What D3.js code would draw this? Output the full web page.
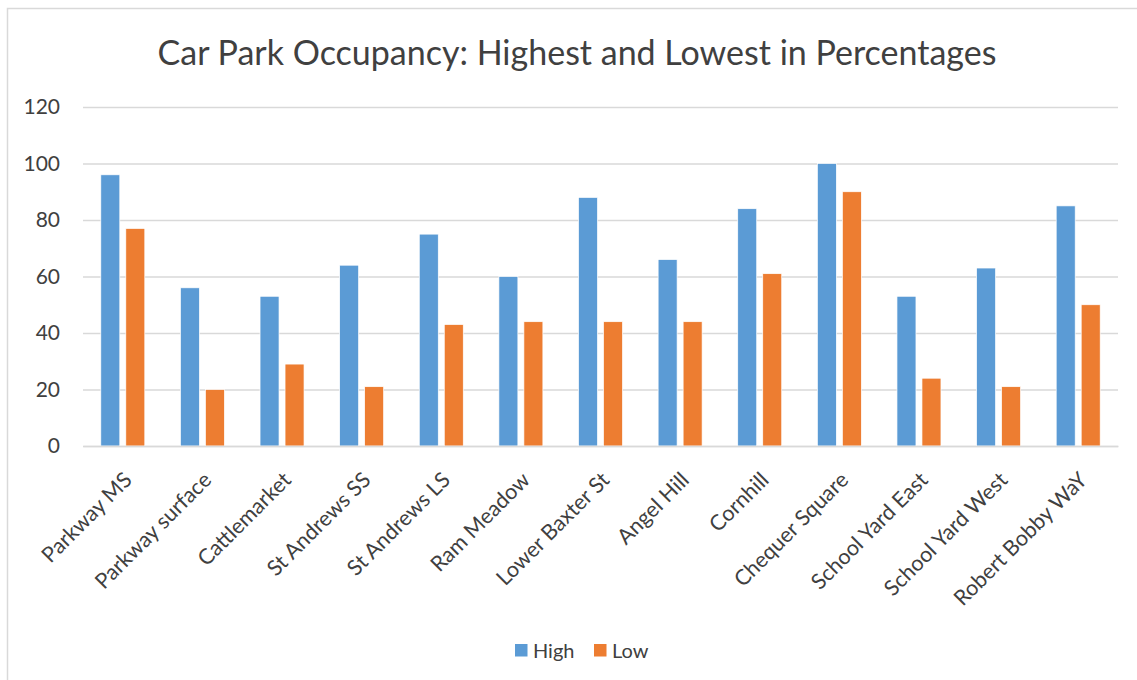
<!DOCTYPE html>
<html>
<head>
<meta charset="utf-8">
<script src="https://cdn.jsdelivr.net/npm/d3@7"></script>
<style>
  body { margin: 0; background: #fff; }
  text { font-family: Lato, "Open Sans", sans-serif; fill: #404040; }
</style>
</head>
<body>
<div id="chart"></div>
<script>
const carParks = ["Parkway MS", "Parkway surface", "Cattlemarket", "St Andrews SS", "St Andrews LS",
    "Ram Meadow", "Lower Baxter St", "Angel Hill", "Cornhill", "Chequer Square",
    "School Yard East", "School Yard West", "Robert Bobby WaY"];
const highValues = [96, 56, 53, 64, 75, 60, 88, 66, 84, 100, 53, 63, 85];
const lowValues = [77, 20, 29, 21, 43, 44, 44, 44, 61, 90, 24, 21, 50];
const seriesNames = ["High", "Low"];
const yTicks = [0, 20, 40, 60, 80, 100, 120];

const colors = { High: "#5b9bd5", Low: "#ed7d31" };

const W = 1137, H = 680;
const margin = { top: 107, right: 19, bottom: 234, left: 83 };
const width = W - margin.left - margin.right;
const height = H - margin.top - margin.bottom;

const svg = d3.select("#chart").append("svg")
    .attr("width", W).attr("height", H);

// outer chart frame
svg.append("path")
    .attr("d", `M7.5,${H} V8.5 H${W}`)
    .attr("fill", "none").attr("stroke", "#d9d9d9").attr("stroke-width", 1.5);

svg.append("text")
    .attr("x", 577).attr("y", 65)
    .attr("text-anchor", "middle")
    .style("font-size", "34px")
    .text("Car Park Occupancy: Highest and Lowest in Percentages");

const g = svg.append("g").attr("transform", `translate(${margin.left},${margin.top})`);

const x = d3.scaleBand().domain(carParks).range([0, width]);
const xs = d3.scaleBand().domain(seriesNames).range([x.bandwidth() / 2 - 22, x.bandwidth() / 2 + 22]).paddingInner(0.24);
const y = d3.scaleLinear().domain([0, 120]).range([height, 0]);

// gridlines
const gridlines = d3.axisLeft(y).tickValues(yTicks).tickSize(-width).tickFormat("");
g.append("g").attr("class", "grid").call(gridlines)
    .call(s => s.select(".domain").remove())
    .call(s => s.selectAll("line").attr("stroke", "#d9d9d9").attr("stroke-width", 1.5));

// y labels
const yAxis = d3.axisLeft(y).tickValues(yTicks).tickSize(0).tickPadding(23);
g.append("g").call(yAxis)
    .call(s => s.select(".domain").remove())
    .call(s => s.selectAll("text").style("font-size", "21px").attr("fill", "#404040"));

// bars
const rows = carParks.map((c, i) => ({ name: c, High: highValues[i], Low: lowValues[i] }));
const groups = g.selectAll(".cat").data(rows).enter().append("g")
    .attr("transform", d => `translate(${x(d.name)},0)`);
groups.selectAll("rect").data(d => seriesNames.map(k => ({ key: k, value: d[k] })))
    .enter().append("rect")
    .attr("x", d => xs(d.key))
    .attr("width", xs.bandwidth())
    .attr("y", d => y(d.value))
    .attr("height", d => height - y(d.value))
    .attr("fill", d => colors[d.key])
    .attr("stroke", "#fff").attr("stroke-width", 0.7);

// x axis
const xAxis = d3.axisBottom(x).tickSize(0).tickPadding(0);
const xg = g.append("g").attr("transform", `translate(0,${height})`).call(xAxis);
xg.select(".domain").attr("stroke", "#d9d9d9").attr("stroke-width", 1.5);
xg.selectAll("text")
    .style("font-size", "21.5px")
    .attr("fill", "#404040")
    .attr("text-anchor", "end")
    .attr("dy", "0.35em")
    .attr("transform", "translate(5,30) rotate(-45)");

// legend
const legend = svg.append("g").attr("transform", "translate(515,644)");
const items = legend.selectAll("g").data(seriesNames).enter().append("g")
    .attr("transform", (d, i) => `translate(${i * 79},0)`);
items.append("rect").attr("width", 12.5).attr("height", 12.5).attr("fill", d => colors[d]);
items.append("text").attr("x", 18).attr("y", 6.5).attr("dy", "0.35em")
    .style("font-size", "20px").text(d => d);
</script>
</body>
</html>
